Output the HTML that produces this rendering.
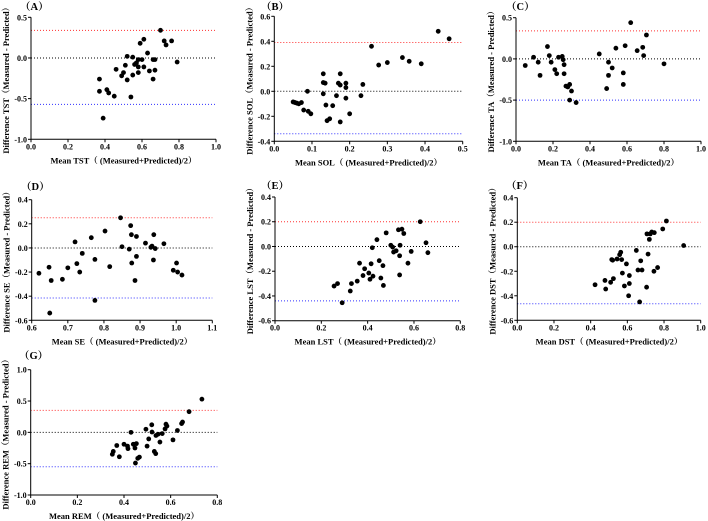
<!DOCTYPE html>
<html><head><meta charset="utf-8"><style>
body{margin:0;background:#fff;}
svg{display:block;font-family:"Liberation Serif","Noto Serif CJK SC",serif;font-weight:bold;}
</style></head><body>
<svg id="fig" width="708" height="521" viewBox="0 0 708 521" xmlns="http://www.w3.org/2000/svg"></svg>
<script>
// ---- data ----
const tstX=[0.70,0.72,0.76,0.61,0.59,0.73,0.63,0.79,0.52,0.55,0.58,0.60,0.57,0.56,0.51,0.66,0.67,0.58,0.61,0.46,0.50,0.58,0.64,0.67,0.49,0.55,0.52,0.66,0.37,0.37,0.41,0.42,0.45,0.54,0.39];
const tstY=[0.34,0.21,0.21,0.23,0.18,0.16,0.06,-0.05,0.02,0.01,-0.02,-0.02,-0.06,-0.08,-0.09,-0.02,-0.02,-0.11,-0.11,-0.14,-0.18,-0.18,-0.16,-0.15,-0.22,-0.21,-0.27,-0.26,-0.26,-0.41,-0.39,-0.43,-0.47,-0.48,-0.74];
const tstLimits=[0.34,0.0,-0.57];
const solX=[0.435,0.464,0.258,0.34,0.358,0.39,0.30,0.277,0.13,0.175,0.13,0.135,0.17,0.175,0.19,0.19,0.235,0.13,0.165,0.23,0.19,0.088,0.05,0.055,0.06,0.065,0.072,0.078,0.09,0.097,0.137,0.155,0.14,0.147,0.175,0.20];
const solY=[0.48,0.42,0.36,0.27,0.24,0.22,0.23,0.21,0.14,0.14,0.07,0.065,0.065,0.05,0.065,0.03,0.055,-0.02,-0.035,-0.035,-0.055,0.0,-0.085,-0.09,-0.095,-0.1,-0.09,-0.15,-0.16,-0.18,-0.11,-0.115,-0.235,-0.22,-0.245,-0.18];
const solLimits=[0.39,0.0,-0.34];
const taX=[0.05,0.095,0.12,0.13,0.17,0.18,0.19,0.21,0.22,0.23,0.25,0.255,0.26,0.26,0.27,0.28,0.29,0.30,0.29,0.325,0.45,0.49,0.50,0.52,0.50,0.54,0.58,0.58,0.59,0.655,0.685,0.69,0.705,0.62,0.80];
const taY=[-0.08,0.02,-0.04,-0.2,0.15,0.04,-0.04,-0.13,-0.18,0.02,0.03,-0.01,-0.07,-0.18,-0.33,-0.34,-0.31,-0.39,-0.5,-0.53,0.06,-0.36,-0.04,-0.11,-0.2,0.13,-0.31,-0.17,0.16,0.10,0.14,0.04,0.29,0.44,-0.06];
const taLimits=[0.34,0.0,-0.50];
const seX=[0.62,0.648,0.654,0.65,0.685,0.70,0.72,0.725,0.733,0.74,0.765,0.775,0.775,0.803,0.816,0.846,0.85,0.87,0.874,0.876,0.877,0.886,0.89,0.89,0.915,0.93,0.933,0.937,0.938,0.942,0.966,0.992,1.001,1.004,1.016];
const seY=[-0.21,-0.16,-0.27,-0.54,-0.26,-0.165,0.05,-0.13,-0.2,-0.045,0.085,-0.095,-0.435,0.14,-0.155,0.25,0.01,-0.01,0.185,0.11,-0.125,-0.27,0.095,-0.07,0.04,0.005,0.015,-0.1,0.11,-0.005,0.035,-0.185,-0.125,-0.2,-0.225];
const seLimits=[0.25,0.0,-0.415];
const lstX=[0.255,0.27,0.29,0.325,0.33,0.355,0.365,0.38,0.387,0.405,0.41,0.415,0.42,0.423,0.44,0.45,0.457,0.466,0.468,0.48,0.5,0.508,0.512,0.523,0.533,0.54,0.538,0.538,0.548,0.556,0.588,0.574,0.627,0.652,0.66];
const lstY=[-0.32,-0.30,-0.455,-0.36,-0.30,-0.28,-0.135,-0.235,-0.18,-0.215,-0.265,-0.14,-0.01,-0.24,0.055,-0.115,-0.255,-0.155,-0.315,0.11,0.01,-0.005,-0.045,-0.035,0.135,0.01,-0.075,-0.23,0.14,0.105,-0.04,-0.135,0.2,0.03,-0.05];
const lstLimits=[0.2,0.0,-0.44];
const dstX=[0.424,0.478,0.482,0.509,0.524,0.515,0.52,0.544,0.558,0.564,0.569,0.573,0.584,0.595,0.607,0.611,0.611,0.649,0.658,0.667,0.673,0.68,0.705,0.707,0.713,0.72,0.725,0.733,0.747,0.745,0.765,0.793,0.813,0.907];
const dstY=[-0.31,-0.275,-0.345,-0.29,-0.26,-0.105,-0.11,-0.1,-0.065,-0.045,-0.105,-0.215,-0.32,-0.14,-0.4,-0.235,-0.3,-0.03,-0.19,-0.45,-0.115,-0.19,-0.33,0.105,-0.06,0.06,0.105,0.12,0.115,-0.2,-0.17,0.145,0.21,0.01];
const dstLimits=[0.2,0.0,-0.465];
const remX=[0.35,0.354,0.369,0.38,0.40,0.415,0.417,0.43,0.44,0.447,0.453,0.449,0.459,0.466,0.494,0.499,0.506,0.519,0.52,0.53,0.536,0.537,0.546,0.554,0.564,0.576,0.58,0.584,0.61,0.629,0.647,0.651,0.679,0.734];
const remY=[-0.35,-0.305,-0.21,-0.39,-0.19,-0.22,-0.26,0.0,-0.19,-0.25,-0.18,-0.49,-0.415,-0.395,0.05,-0.22,-0.105,0.12,0.005,-0.305,-0.34,-0.05,-0.03,-0.155,-0.02,0.055,0.13,0.1,-0.12,0.03,0.14,0.165,0.33,0.53];
const remLimits=[0.35,0.0,-0.55];

const panels=[
 {id:'a',tag:'(A)',v:'TST',xs:tstX,ys:tstY,lim:tstLimits,xd:[0,1],xs0:31,xs1:216,xstep:0.2,yd:[-1,0.5],yt:17.3,yb:139.3,ystep:0.5,lx:20,ly:10},
 {id:'b',tag:'(B)',v:'SOL',xs:solX,ys:solY,lim:solLimits,xd:[0,0.5],xs0:274.3,xs1:462.7,xstep:0.1,yd:[-0.4,0.6],yt:16.3,yb:141.3,ystep:0.2,lx:261,ly:10},
 {id:'c',tag:'(C)',v:'TA',xs:taX,ys:taY,lim:taLimits,xd:[0,1],xs0:516,xs1:701,xstep:0.2,yd:[-1,0.5],yt:17.7,yb:141.3,ystep:0.5,lx:506,ly:10},
 {id:'d',tag:'(D)',v:'SE',xs:seX,ys:seY,lim:seLimits,xd:[0.6,1.1],xs0:31.7,xs1:212.3,xstep:0.1,yd:[-0.6,0.4],yt:199.7,yb:320.3,ystep:0.2,lx:21,ly:190},
 {id:'e',tag:'(E)',v:'LST',xs:lstX,ys:lstY,lim:lstLimits,xd:[0,0.8],xs0:275,xs1:460.3,xstep:0.2,yd:[-0.6,0.4],yt:197,yb:320.7,ystep:0.2,lx:261,ly:189},
 {id:'f',tag:'(F)',v:'DST',xs:dstX,ys:dstY,lim:dstLimits,xd:[0,1],xs0:517.3,xs1:700.7,xstep:0.2,yd:[-0.6,0.4],yt:197.7,yb:320.3,ystep:0.2,lx:506,ly:189},
 {id:'g',tag:'(G)',v:'REM',xs:remX,ys:remY,lim:remLimits,xd:[0,0.8],xs0:30.7,xs1:217.3,xstep:0.2,yd:[-1,1],yt:369.7,yb:495,ystep:0.5,lx:19,ly:359}
];
const NS='http://www.w3.org/2000/svg';
const svg=document.getElementById('fig');
function mk(tag,attrs,parent){const e=document.createElementNS(NS,tag);for(const k in attrs)e.setAttribute(k,attrs[k]);parent.appendChild(e);return e;}
const limColors=['#ff3030','#000','#3030ff'];
panels.forEach(p=>{
  const g=mk('g',{},svg);
  
  
  const sx=v=>p.xs0+(v-p.xd[0])/(p.xd[1]-p.xd[0])*(p.xs1-p.xs0);
  const sy=v=>p.yb-(v-p.yd[0])/(p.yd[1]-p.yd[0])*(p.yb-p.yt);
  // panel label
  const t=mk('text',{x:p.lx,y:p.ly,'font-size':10.5},g);t.textContent='（'+p.tag.slice(1,2)+'）';
  
  
  // limit lines
  p.lim.forEach((v,i)=>{
    const l=mk('line',{x1:p.xs0,x2:p.xs1,y1:sy(v),y2:sy(v),stroke:limColors[i],'stroke-width':1,'stroke-dasharray':'1 2'},g);
    
    
  });
  // axes
  const ax=mk('path',{d:`M${p.xs0},${p.yt} V${p.yb} H${p.xs1}`,stroke:'#000','stroke-width':1,fill:'none'},g);
  
  
  const nx=Math.round((p.xd[1]-p.xd[0])/p.xstep);
  for(let i=0;i<=nx;i++){const v=p.xd[0]+i*p.xstep,x=sx(v);
    mk('line',{x1:x,x2:x,y1:p.yb,y2:p.yb+3,stroke:'#000'},g);
    const tx=mk('text',{x:x,y:p.yb+10,'font-size':8,'text-anchor':'middle'},g);tx.textContent=v.toFixed(1);
    
    }
  const ny=Math.round((p.yd[1]-p.yd[0])/p.ystep);
  for(let i=0;i<=ny;i++){const v=p.yd[0]+i*p.ystep,y=sy(v);
    mk('line',{x1:p.xs0-3,x2:p.xs0,y1:y,y2:y,stroke:'#000'},g);
    const ty=mk('text',{x:p.xs0-4,y:y+3,'font-size':8,'text-anchor':'end'},g);ty.textContent=(Math.abs(v)<1e-9?0:v).toFixed(1);
    
    }
  const xt=mk('text',{x:(p.xs0+p.xs1)/2,y:p.yb+24,'font-size':8.5,'text-anchor':'middle'},g);
  xt.textContent='Mean '+p.v+'（ (Measured+Predicted)/2）';
  
  
  const cx=p.xs0-22,cy=(p.yt+p.yb)/2;
  const yt=mk('text',{x:cx,y:cy,'font-size':8.5,'text-anchor':'middle',transform:`rotate(-90 ${cx} ${cy})`},g);
  yt.textContent='Difference '+p.v+'（Measured - Predicted）';
  
  
  p.xs.forEach((v,i)=>{
    const c=mk('circle',{cx:sx(v),cy:sy(p.ys[i]),r:2.4,fill:'#000'},g);
    
    
  });
});
</script>
</body></html>
